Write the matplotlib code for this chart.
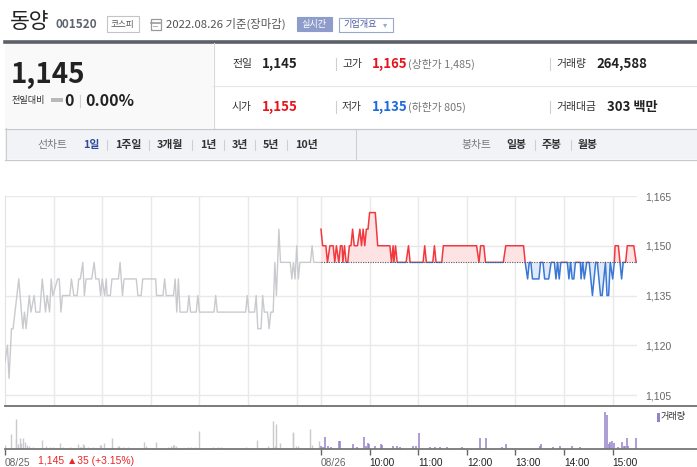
import matplotlib
matplotlib.use('Agg')
import matplotlib.pyplot as plt
from matplotlib.patches import Rectangle
from matplotlib.lines import Line2D
import numpy as np

plt.rcParams['font.family'] = ['Noto Sans CJK KR', 'DejaVu Sans']

W, H = 697, 467

# ---------------- data ----------------
stock_name = '동양'
stock_code = '001520'
market = '코스피'
date_text = '2022.08.26 기준(장마감)'
current_price = '1,145'
change_abs = '0'
change_pct = '0.00%'
info_row1 = [('전일', '1,145', '#222222', ''), ('고가', '1,165', '#e8141c', '(상한가 1,485)'),
             ('거래량', '264,588', '#222222', '')]
info_row2 = [('시가', '1,155', '#e8141c', ''), ('저가', '1,135', '#1a6be0', '(하한가 805)'),
             ('거래대금', '303 백만', '#222222', '')]
period_tabs = ['1일', '1주일', '3개월', '1년', '3년', '5년', '10년']
candle_tabs = ['일봉', '주봉', '월봉']

prev_close = 1145
session_len = 390  # minutes per session (09:00-15:30)

# 08/25 (previous day) price path: minutes after 09:00, price
day1_minutes = [0, 3, 5, 8, 10, 17, 22, 24, 26, 30, 32, 36, 38, 43, 46, 50, 52, 55, 57, 59,
                65, 67, 69, 71, 80, 82, 85, 89, 91, 93, 96, 98, 100, 107, 110, 112, 116, 118,
                120, 123, 125, 126, 130, 132, 140, 142, 145, 147, 162, 164, 168, 170, 186, 187,
                195, 197, 199, 208, 210, 212, 214, 216, 225, 227, 229, 236, 238, 240, 258, 260,
                262, 297, 299, 301, 308, 310, 312, 316, 318, 320, 324, 326, 328, 331, 333, 335,
                338, 340, 352, 354, 356, 358, 360, 362, 364, 377, 379, 381, 390]
day1_prices = [1115, 1120, 1110, 1125, 1125, 1140, 1125, 1130, 1125, 1135, 1130, 1135, 1130,
               1130, 1140, 1130, 1135, 1130, 1140, 1135, 1140, 1140, 1130, 1135, 1135, 1140,
               1135, 1135, 1140, 1140, 1145, 1135, 1140, 1140, 1145, 1140, 1140, 1135, 1140,
               1135, 1140, 1135, 1135, 1140, 1140, 1145, 1135, 1140, 1140, 1135, 1135, 1140,
               1140, 1135, 1135, 1140, 1135, 1135, 1140, 1130, 1140, 1130, 1130, 1135, 1130,
               1130, 1135, 1130, 1130, 1135, 1130, 1130, 1135, 1130, 1130, 1135, 1125, 1125,
               1135, 1130, 1130, 1125, 1130, 1130, 1145, 1135, 1155, 1145, 1145, 1140, 1145,
               1140, 1150, 1140, 1145, 1145, 1150, 1145, 1145]

# 08/26 price path: minutes after 09:00, price
day2_minutes = [0, 2, 6, 8, 11, 15, 17, 19, 22, 24, 26, 27, 29, 31, 33, 35, 37, 39, 41, 45,
                48, 50, 52, 54, 56, 58, 60, 67, 70, 85, 87, 89, 90, 92, 94, 105, 108, 110, 126,
                128, 130, 138, 140, 142, 149, 151, 192, 195, 197, 201, 203, 225, 228, 250, 252,
                255, 257, 259, 261, 269, 271, 274, 276, 281, 284, 288, 290, 292, 294, 296, 304,
                306, 308, 310, 312, 314, 320, 321, 323, 325, 328, 331, 333, 335, 337, 339, 341,
                343, 345, 347, 349, 351, 353, 355, 357, 360, 362, 363, 367, 369, 371, 373, 376,
                378, 386, 389]
day2_prices = [1155, 1150, 1150, 1145, 1150, 1150, 1145, 1150, 1145, 1150, 1150, 1145, 1150,
               1145, 1145, 1150, 1150, 1155, 1150, 1150, 1155, 1150, 1155, 1150, 1155, 1155,
               1160, 1160, 1150, 1150, 1145, 1150, 1145, 1150, 1145, 1145, 1150, 1145, 1145,
               1150, 1145, 1145, 1150, 1145, 1145, 1150, 1150, 1145, 1150, 1150, 1145, 1145,
               1150, 1150, 1145, 1140, 1145, 1145, 1140, 1140, 1145, 1145, 1140, 1140, 1145,
               1145, 1140, 1145, 1140, 1145, 1145, 1140, 1145, 1140, 1140, 1145, 1145, 1140,
               1145, 1140, 1145, 1145, 1140, 1135, 1140, 1145, 1145, 1140, 1135, 1135, 1140,
               1145, 1135, 1135, 1145, 1140, 1145, 1150, 1150, 1145, 1140, 1145, 1145, 1150,
               1150, 1145]

# volumes (shares)
day1_vol_minutes = [0, 8, 13, 14, 16, 18, 20, 22, 25, 27, 30, 35, 46, 50, 56, 59, 68, 72, 80,
                    90, 92, 94, 96, 97, 102, 108, 117, 119, 122, 132, 139, 141, 146, 152, 171,
                    174, 186, 201, 205, 207, 209, 211, 226, 230, 235, 239, 257, 263, 267, 298,
                    311, 324, 331, 333, 335, 339, 355, 356, 359, 362, 377, 379, 388]
day1_volumes = [3700, 14700, 9300, 29700, 4700, 10300, 5300, 10300, 7000, 3700, 2700, 2000,
                8700, 2700, 2000, 2000, 6000, 2000, 2000, 4700, 2000, 2000, 4700, 3700, 2000,
                2000, 3700, 3700, 6000, 10700, 2700, 2700, 2000, 2000, 6700, 2700, 6300, 2000,
                3000, 4000, 3700, 3000, 2000, 2000, 2000, 18000, 2000, 2000, 2000, 2000, 8700,
                2700, 27700, 2700, 24300, 5300, 16000, 16700, 2700, 2700, 19700, 3300, 7700]
day2_vol_minutes = [0, 2, 5, 9, 12, 22, 24, 39, 45, 53, 55, 58, 59, 67, 74, 75, 89, 94, 97,
                    114, 117, 121, 134, 141, 147, 156, 174, 196, 204, 223, 228, 270, 271, 286,
                    295, 310, 320, 351, 353, 356, 357, 359, 361, 367, 372, 374, 375, 378, 379,
                    389]
day2_volumes = [2700, 1700, 11700, 2700, 1700, 8000, 8000, 4700, 1300, 12000, 2700, 6000,
                4700, 2700, 4700, 3700, 2700, 2700, 1700, 2700, 2700, 16000, 1300, 1300, 1300,
                1300, 1300, 11000, 11000, 1300, 4300, 2700, 4300, 1300, 3000, 2700, 1300, 37000,
                33300, 4700, 7000, 7700, 6000, 2000, 6700, 3000, 3000, 10300, 3000, 11000]

y_ticks = [1105, 1120, 1135, 1150, 1165]
y_tick_labels = ['1,105', '1,120', '1,135', '1,150', '1,165']
x_tick_minutes = [0, 390, 450, 510, 570, 630, 690, 750]
x_tick_labels = ['08/25', '08/26', '10:00', '11:00', '12:00', '13:00', '14:00', '15:00']
prev_day_summary = '1,145 ▲35 (+3.15%)'
volume_label = '거래량'

# ---------------- figure ----------------
fig = plt.figure(figsize=(W / 100, H / 100), dpi=100)
fig.patch.set_facecolor('white')


def fx(x):
    return x / W


def fy(y):
    return 1 - y / H


def text(x, y, s, size, color='#333333', weight='normal', ha='left', va='center', **kw):
    fig.text(fx(x), fy(y), s, fontsize=size, color=color, fontweight=weight,
             ha=ha, va=va, **kw)


def rect(x0, y0, x1, y1, **kw):
    fig.add_artist(Rectangle((fx(x0), fy(y1)), (x1 - x0) / W, (y1 - y0) / H,
                             transform=fig.transFigure, **kw))


def hline(x0, x1, y, **kw):
    fig.add_artist(Line2D([fx(x0), fx(x1)], [fy(y), fy(y)], transform=fig.transFigure, **kw))


def vline(x, y0, y1, **kw):
    fig.add_artist(Line2D([fx(x), fx(x)], [fy(y0), fy(y1)], transform=fig.transFigure, **kw))


# ---- header ----
text(10, 22, stock_name, 15.5, color='#222222')
text(56, 24, stock_code, 8.5, color='#5f6570', weight='bold')
rect(106.5, 16.5, 138.5, 31.5, facecolor='white', edgecolor='#c4c4c4', lw=0.8)
text(122.5, 24, market, 6.2, color='#555555', ha='center')
# calendar icon
rect(150.5, 19.5, 160.5, 29.5, facecolor='white', edgecolor='#9a9a9a', lw=0.9)
hline(151, 160, 22.5, color='#9a9a9a', lw=1.2)
hline(152.5, 157, 25.5, color='#b0b0b0', lw=0.7)
text(166, 23.5, date_text, 8.2, color='#555555')
rect(297, 17, 332, 31, facecolor='#8d9cca', edgecolor='#8d9cca', lw=0.8)
text(314.5, 24, '실시간', 6.6, color='white', ha='center')
rect(338.5, 17.5, 392.5, 31.5, facecolor='white', edgecolor='#9aa6d0', lw=0.8)
text(343, 24.3, '기업개요', 6.6, color='#4b5aa0')
text(383, 24.3, '▾', 6, color='#9aa6d0', family=['DejaVu Sans'])

hline(5, 697, 41.5, color='#5c6068', lw=2.6)

# ---- info panel ----
rect(5, 43, 213, 128, facecolor='#f9f9f9', edgecolor='none')
vline(213.5, 43, 128, color='#d8d8d8', lw=0.8)
text(11, 75, current_price, 20, color='#222222', weight='bold')
text(12, 101, '전일대비', 6.6, color='#333333')
rect(51, 98.5, 63, 101.5, facecolor='#b9b9b9', edgecolor='none')
text(64, 101, change_abs, 11.5, color='#222222', weight='bold')
vline(79.5, 95, 107, color='#d0d0d0', lw=0.8)
text(85, 101, change_pct, 11.5, color='#222222', weight='bold')

hline(213, 697, 85.5, color='#e6e6e6', lw=0.8)
label_x = [232, 342, 556]
value_x = [262, 372, 596]
for row, yy in ((info_row1, 64), (info_row2, 107)):
    for i, (lab, val, col, extra) in enumerate(row):
        if i > 0:
            vline(label_x[i] - 6.5, yy - 6, yy + 6, color='#cfcfcf', lw=0.8)
        text(label_x[i], yy, lab, 7.8, color='#333333')
        vx = value_x[i] + (11 if lab == '거래대금' else 0)
        text(vx, yy, val, 9.5, color=col, weight='bold')
        if extra:
            text(408, yy, extra, 7.8, color='#777777')
hline(5, 697, 128.5, color='#c8c8c8', lw=0.9)

# ---- toolbar ----
rect(5, 129, 697, 159, facecolor='#f2f3f7', edgecolor='none')
vline(5.5, 128, 159, color='#cfcfcf', lw=0.8)
hline(5, 697, 159.5, color='#c8c8c8', lw=0.9)
vline(356, 129, 159, color='#cfcfcf', lw=0.8)
text(37, 145, '선차트', 7.8, color='#777777')
tab_x = [83, 115, 157, 200, 232, 263, 295]
for i, (lab, xx) in enumerate(zip(period_tabs, tab_x)):
    if i > 0:
        vline(xx - 8, 140, 150, color='#cfcfcf', lw=0.8)
    text(xx, 145, lab, 7.8, color='#2f4a9c' if i == 0 else '#333333', weight='bold')
text(461, 145, '봉차트', 7.8, color='#777777')
for i, (lab, xx) in enumerate(zip(candle_tabs, [506, 542, 578])):
    if i > 0:
        vline(xx - 7.5, 140, 150, color='#cfcfcf', lw=0.8)
    text(xx, 145, lab, 7.8, color='#333333', weight='bold')

# ---- price chart ----
X0, X1 = 5, 637
ax = fig.add_axes([fx(X0), fy(405), (X1 - X0) / W, (405 - 196) / H])
ax.set_xlim(0, 2 * session_len)
ax.set_ylim(1102.0, 1165)
grid_minutes = [m for m in range(60, 2 * session_len, 60) if m < session_len] + \
               [session_len + m for m in range(0, session_len, 60)]
ax.set_xticks(grid_minutes)
ax.set_yticks(y_ticks)
ax.set_yticklabels(y_tick_labels)
ax.yaxis.tick_right()
ax.tick_params(axis='y', length=0, pad=5.8, labelsize=7.5, labelcolor='#666666')
ax.tick_params(axis='x', length=0, labelbottom=False)
for lbl in ax.get_yticklabels():
    lbl.set_fontfamily(['Liberation Sans', 'DejaVu Sans'])
    lbl.set_horizontalalignment('left')
ax.grid(True, color='#e9e9e9', lw=1)
ax.set_axisbelow(True)
for s in ('top', 'right', 'bottom'):
    ax.spines[s].set_visible(False)
ax.spines['left'].set_color('#e3e3e3')
ax.patch.set_alpha(0)

ax.plot(day1_minutes, day1_prices, color='#c8cace', lw=1.0, zorder=3)

t2 = session_len + np.array(day2_minutes)
p2 = np.array(day2_prices)
ax.fill_between(t2, p2, prev_close, where=p2 >= prev_close, interpolate=True,
                color='#fde3e3', lw=0, zorder=2)
ax.fill_between(t2, p2, prev_close, where=p2 <= prev_close, interpolate=True,
                color='#e1eaf8', lw=0, zorder=2)
up_line, = ax.plot(t2, p2, color='#f2393f', lw=1.1, zorder=4)
dn_line, = ax.plot(t2, p2, color='#3a78d6', lw=1.1, zorder=5)
clip_up = Rectangle((0, prev_close), 2 * session_len, 100, transform=ax.transData)
clip_dn = Rectangle((0, prev_close - 100), 2 * session_len, 100.25, transform=ax.transData)
up_line.set_clip_path(clip_up)
dn_line.set_clip_path(clip_dn)
ax.hlines(prev_close, t2[0], t2[-1], colors='#555555', linestyles=(0, (1, 1.2)), lw=0.8,
          zorder=6)

# ---- volume chart ----
vax = fig.add_axes([fx(X0), fy(448.5), (X1 - X0) / W, (448.5 - 405) / H])
vax.set_xlim(0, 2 * session_len)
vax.set_ylim(0, 43500)
vax.vlines(day1_vol_minutes, 0, day1_volumes, colors='#c8cace', lw=1.0)
vax.vlines(session_len + np.array(day2_vol_minutes), 0, day2_volumes, colors='#9682c9', lw=1.1)
for s in vax.spines.values():
    s.set_visible(False)
vax.set_yticks([])
vax.set_xticks(x_tick_minutes)
vax.set_xticklabels(x_tick_labels)
vax.tick_params(axis='x', length=4, width=1, color='#666666', direction='out', pad=2.5,
                labelsize=7.3)
for i, lbl in enumerate(vax.get_xticklabels()):
    lbl.set_horizontalalignment('left')
    lbl.set_fontfamily(['Liberation Sans', 'DejaVu Sans'])
    lbl.set_color('#666666' if i < 2 else '#222222')
vax.patch.set_alpha(0)

hline(5, 697, 405.5, color='#707070', lw=1.3)
hline(5, 697, 448.8, color='#777777', lw=1.3)

rect(657, 412.5, 659.5, 421.5, facecolor='#9682c9', edgecolor='none')
text(661, 417, volume_label, 6.6, color='#333333')
text(38, 461.5, prev_day_summary, 7.5, color='#e8262a',
     family=['Liberation Sans', 'DejaVu Sans'])

fig.savefig('out.png', dpi=100, facecolor='white')
